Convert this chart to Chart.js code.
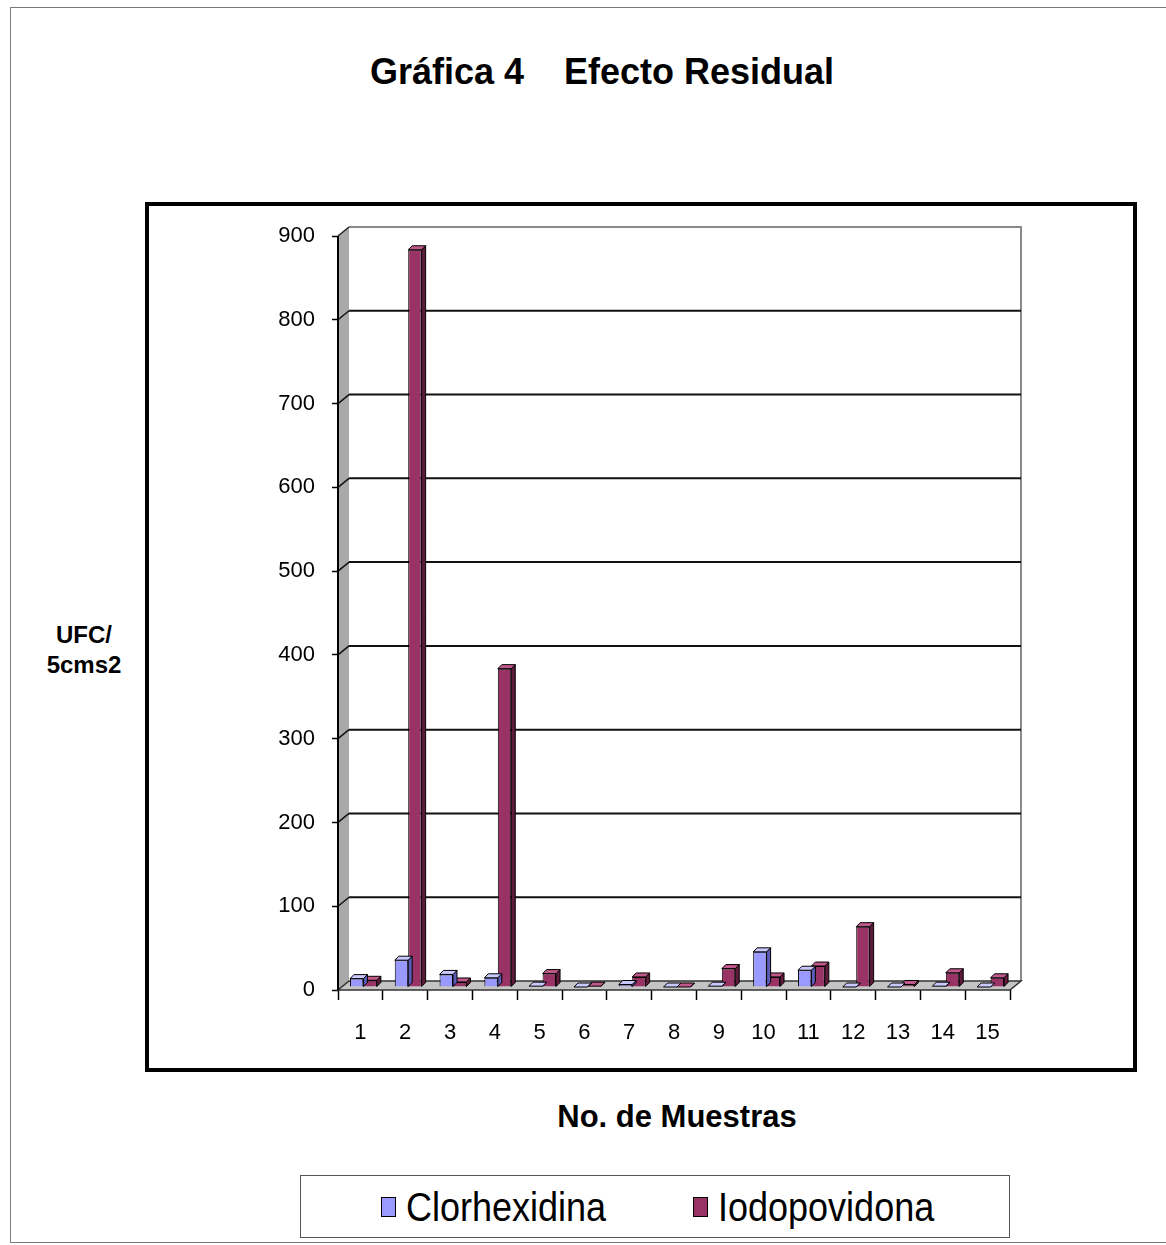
<!DOCTYPE html>
<html lang="es">
<head>
<meta charset="utf-8">
<title>Gráfica 4 Efecto Residual</title>
<script src="https://cdn.jsdelivr.net/npm/chart.js@4.4.1/dist/chart.umd.min.js"></script>
<style>
  html, body { margin: 0; padding: 0; background: #fff; overflow: hidden; }
  #page { position: relative; width: 1166px; height: 1245px; font-family: "Liberation Sans", Arial, sans-serif; color: #000; }
  #outer { position: absolute; left: 10px; top: 7px; width: 1170px; height: 1236px; border: 1px solid #7a7a7a; box-sizing: border-box; }
  #frame { position: absolute; left: 145px; top: 202px; width: 992px; height: 870px; border: 4px solid #000; box-sizing: border-box; }
  #title { position: absolute; left: 602px; top: 50px; transform: translateX(-50%); font-size: 36px; font-weight: bold; white-space: pre; line-height: 44px; }
  #ytitle { position: absolute; left: 84px; top: 620px; transform: translateX(-50%); font-size: 24px; font-weight: bold; text-align: center; line-height: 30px; }
  #xtitle { position: absolute; left: 677px; top: 1098px; transform: translateX(-50%); font-size: 31px; font-weight: bold; white-space: nowrap; line-height: 38px; }
  #legend { position: absolute; left: 300px; top: 1175px; width: 710px; height: 63px; border: 1px solid #555; box-sizing: border-box; }
  .lg-item { position: absolute; top: 8px; height: 46px; display: flex; align-items: center; }
  .lg-box { width: 15px; height: 20px; border: 1px solid #000; box-sizing: border-box; margin-right: 10px; }
  .lg-text { font-size: 40px; line-height: 46px; display: inline-block; transform: scaleX(0.9); transform-origin: left center; white-space: nowrap; }
  #wrap { position: absolute; left: 0; top: 0; width: 1166px; height: 1245px; }
</style>
</head>
<body>
<div id="page">
  <div id="outer"></div>
  <div id="frame"></div>
  <div id="title">Gráfica 4    Efecto Residual</div>
  <div id="ytitle">UFC/<br>5cms2</div>
  <div id="xtitle">No. de Muestras</div>
  <div id="legend"></div>
  <div id="wrap"><canvas id="chart"></canvas></div>
</div>
<script>
// Sample numbers along the category axis
const muestras = ['1', '2', '3', '4', '5', '6', '7', '8', '9', '10', '11', '12', '13', '14', '15'];

// UFC / 5 cm2 counts per antiseptic
const clorhexidina = [10, 32, 15, 11, 1, 0, 3, 0, 1, 42, 20, 0, 0, 1, 0];
const iodopovidona = [8, 880, 6, 380, 16, 1, 12, 0, 22, 12, 25, 72, 3, 17, 11];

// Value axis range
const yMin = 0;
const yMax = 900;
const yStep = 100;

// Series colours: front face, side face, top face
const palette = {
  Clorhexidina: { front: '#9999ff', side: '#5c5cb8', top: '#c9c9ff' },
  Iodopovidona: { front: '#993366', side: '#5e1b3c', top: '#c0588a' }
};

// Perspective offsets for the walls/floor and for each column
const WALL = { dx: 11, dy: 9 };
const BAR_DEPTH = 4;
// columns stand halfway into the floor depth
const BAR_SHIFT = { dx: 3, dy: 3 };

Chart.defaults.font.family = '"Liberation Sans", Arial, sans-serif';
Chart.defaults.color = '#000';

// Draws the shaded side wall, floor and back-wall gridlines of the 3D frame
const walls3d = {
  id: 'walls3d',
  beforeDatasetsDraw(chart) {
    const ctx = chart.ctx;
    const ys = chart.scales.y;
    const L = chart.chartArea.left, R = chart.chartArea.right;
    const top = ys.getPixelForValue(yMax), base = ys.getPixelForValue(yMin);
    const { dx, dy } = WALL;
    ctx.save();
    // left wall
    ctx.beginPath();
    ctx.moveTo(L, top); ctx.lineTo(L + dx, top - dy); ctx.lineTo(L + dx, base - dy); ctx.lineTo(L, base);
    ctx.closePath();
    ctx.fillStyle = '#a9a9a9'; ctx.fill();
    // back wall outline
    ctx.strokeStyle = '#8a8a8a'; ctx.lineWidth = 2;
    ctx.beginPath();
    ctx.moveTo(L + dx, top - dy); ctx.lineTo(R + dx, top - dy); ctx.lineTo(R + dx, base - dy);
    ctx.stroke();
    // gridlines on the back wall
    ys.ticks.forEach(t => {
      if (t.value <= yMin || t.value >= yMax) return;
      const py = ys.getPixelForValue(t.value);
      ctx.strokeStyle = '#111'; ctx.lineWidth = 2;
      ctx.beginPath();
      ctx.moveTo(L + dx, py - dy); ctx.lineTo(R + dx, py - dy);
      ctx.stroke();
      ctx.lineWidth = 1.5;
      ctx.beginPath();
      ctx.moveTo(L, py); ctx.lineTo(L + dx, py - dy);
      ctx.stroke();
    });
    ctx.strokeStyle = '#222'; ctx.lineWidth = 1.5;
    ctx.beginPath(); ctx.moveTo(L, top); ctx.lineTo(L + dx, top - dy); ctx.stroke();
    // floor
    ctx.beginPath();
    ctx.moveTo(L, base); ctx.lineTo(R, base); ctx.lineTo(R + dx, base - dy); ctx.lineTo(L + dx, base - dy);
    ctx.closePath();
    ctx.fillStyle = '#c4c4c4'; ctx.fill();
    ctx.strokeStyle = '#333'; ctx.lineWidth = 1.5; ctx.stroke();
    // front value axis
    ctx.strokeStyle = '#000'; ctx.lineWidth = 2;
    ctx.beginPath(); ctx.moveTo(L, top); ctx.lineTo(L, base); ctx.stroke();
    ctx.restore();
  },
  beforeDatasetDraw(chart) {
    chart.ctx.save();
    chart.ctx.translate(BAR_SHIFT.dx, -BAR_SHIFT.dy);
  },
  // top and side faces of each column, drawn right after its own series
  afterDatasetDraw(chart, args) {
    const ctx = chart.ctx;
    const meta = chart.getDatasetMeta(args.index);
    const col = palette[chart.data.datasets[args.index].label];
    const d = BAR_DEPTH;
    ctx.save();
    ctx.strokeStyle = '#000'; ctx.lineWidth = 1; ctx.lineJoin = 'round';
    meta.data.forEach(el => {
      const { x, y, base, width } = el.getProps(['x', 'y', 'base', 'width'], true);
      const l = x - width / 2, r = x + width / 2;
      // side
      ctx.beginPath();
      ctx.moveTo(r, y); ctx.lineTo(r + d, y - d); ctx.lineTo(r + d, base - d); ctx.lineTo(r, base);
      ctx.closePath();
      ctx.fillStyle = col.side; ctx.fill(); ctx.stroke();
      // top
      ctx.beginPath();
      ctx.moveTo(l, y); ctx.lineTo(l + d, y - d); ctx.lineTo(r + d, y - d); ctx.lineTo(r, y);
      ctx.closePath();
      ctx.fillStyle = col.top; ctx.fill(); ctx.stroke();
    });
    ctx.restore();
    ctx.restore();
  }
};

const chart = new Chart(document.getElementById('chart'), {
  type: 'bar',
  data: {
    labels: muestras,
    datasets: [
      { label: 'Clorhexidina', data: clorhexidina, backgroundColor: palette.Clorhexidina.front,
        borderColor: '#000', borderWidth: 1, categoryPercentage: 0.6, barPercentage: 1.0 },
      { label: 'Iodopovidona', data: iodopovidona, backgroundColor: palette.Iodopovidona.front,
        borderColor: '#000', borderWidth: 1, categoryPercentage: 0.6, barPercentage: 1.0 }
    ]
  },
  options: {
    responsive: true,
    maintainAspectRatio: false,
    animation: false,
    layout: { padding: { left: 278, right: 156, top: 236, bottom: 195 } },
    plugins: { legend: { display: false }, title: { display: false }, tooltip: { enabled: false } },
    scales: {
      x: {
        grid: { color: 'rgba(0,0,0,0)', tickColor: '#000', tickLength: 10, tickWidth: 1.5, offset: true },
        border: { display: false },
        ticks: { font: { size: 22 }, padding: 20, maxRotation: 0, autoSkip: false },
        afterFit(s) { s.height = 60; }
      },
      y: {
        min: yMin, max: yMax,
        grid: { color: 'rgba(0,0,0,0)', tickColor: '#000', tickLength: 6, tickWidth: 1.5 },
        border: { display: false },
        ticks: { stepSize: yStep, font: { size: 22 }, padding: 17 },
        afterFit(s) { s.width = 60; }
      }
    }
  },
  plugins: [walls3d]
});

// Legend built from the chart's own datasets
const legendEl = document.getElementById('legend');
const legendLeft = [80, 392];
chart.data.datasets.forEach((ds, i) => {
  const item = document.createElement('div');
  item.className = 'lg-item';
  item.style.left = legendLeft[i] + 'px';
  const box = document.createElement('span');
  box.className = 'lg-box';
  box.style.background = ds.backgroundColor;
  const txt = document.createElement('span');
  txt.className = 'lg-text';
  txt.textContent = ds.label;
  item.appendChild(box); item.appendChild(txt);
  legendEl.appendChild(item);
});
</script>
</body>
</html>
